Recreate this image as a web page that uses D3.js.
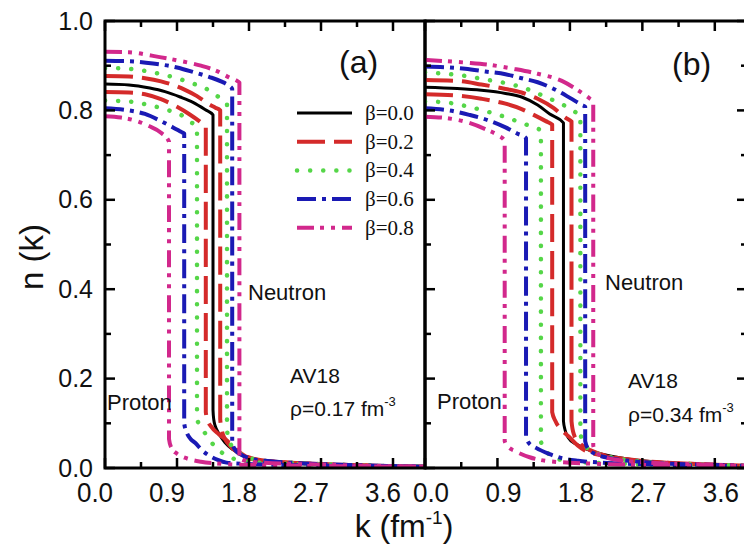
<!DOCTYPE html>
<html><head><meta charset="utf-8">
<script src="https://cdn.jsdelivr.net/npm/d3@7"></script>
<style>body{margin:0;background:#fff}svg{display:block}</style>
</head><body>
<script>
// ---------- tick values ----------
const xTicks = [0, 0.9, 1.8, 2.7, 3.6];
const xMinor = [0.45, 1.35, 2.25, 3.15];
const yTicks = [0, 0.2, 0.4, 0.6, 0.8, 1.0];
const yMinor = [0.1, 0.3, 0.5, 0.7, 0.9];
const betas = ["0.0", "0.2", "0.4", "0.6", "0.8"];

// ---------- panel (a): rho = 0.17 fm^-3, [k, n(k)] ----------
const a_b00 = [[0,0.859],[0.3,0.857],[0.56,0.850],[0.75,0.842],[0.94,0.830],[1.1,0.818],[1.25,0.802],[1.35,0.790],[1.35,0.13],[1.36,0.108],[1.38,0.093],[1.42,0.078],[1.5,0.057],[1.6,0.041],[1.7,0.030],[1.81,0.022],[2.0,0.016],[2.4,0.011],[2.8,0.008],[3.2,0.006],[3.6,0.004],[4.0,0.003]];
const a_b02p = [[0,0.841],[0.3,0.840],[0.5,0.836],[0.7,0.825],[0.9,0.808],[1.05,0.792],[1.2,0.773],[1.26,0.764],[1.26,0.125],[1.28,0.108],[1.33,0.092],[1.42,0.076],[1.52,0.062],[1.6,0.048],[1.69,0.034],[1.81,0.021],[2.0,0.016],[2.4,0.011],[2.8,0.008],[3.2,0.006],[3.6,0.004],[4.0,0.003]];
const a_b02n = [[0,0.877],[0.3,0.876],[0.5,0.872],[0.7,0.865],[0.85,0.857],[1.0,0.846],[1.15,0.832],[1.28,0.816],[1.38,0.806],[1.44,0.800],[1.44,0.11],[1.46,0.085],[1.5,0.065],[1.56,0.050],[1.65,0.036],[1.75,0.027],[1.85,0.021],[2.0,0.016],[2.4,0.011],[2.8,0.008],[3.2,0.006],[3.6,0.004],[4.0,0.003]];
const a_b04p = [[0,0.822],[0.3,0.820],[0.55,0.812],[0.8,0.800],[0.95,0.790],[1.05,0.776],[1.15,0.762],[1.15,0.11],[1.19,0.095],[1.25,0.078],[1.32,0.060],[1.4,0.043],[1.5,0.030],[1.62,0.020],[1.8,0.014],[2.2,0.010],[2.6,0.008],[3.0,0.006],[3.6,0.004],[4.0,0.003]];
const a_b04n = [[0,0.895],[0.3,0.893],[0.6,0.885],[0.9,0.872],[1.1,0.860],[1.25,0.850],[1.38,0.835],[1.48,0.822],[1.525,0.815],[1.525,0.085],[1.55,0.062],[1.6,0.046],[1.7,0.031],[1.8,0.023],[2.0,0.016],[2.4,0.011],[2.8,0.008],[3.2,0.006],[3.6,0.004],[4.0,0.003]];
const a_b06p = [[0,0.805],[0.3,0.800],[0.5,0.792],[0.7,0.776],[0.85,0.762],[0.95,0.752],[0.99,0.748],[0.99,0.10],[1.02,0.080],[1.07,0.065],[1.13,0.056],[1.21,0.040],[1.3,0.028],[1.41,0.018],[1.52,0.012],[1.8,0.009],[2.2,0.007],[2.8,0.005],[3.4,0.004],[4.0,0.003]];
const a_b06n = [[0,0.911],[0.3,0.910],[0.6,0.905],[0.9,0.896],[1.1,0.886],[1.3,0.875],[1.45,0.865],[1.55,0.855],[1.59,0.848],[1.59,0.056],[1.63,0.040],[1.7,0.030],[1.8,0.022],[2.0,0.016],[2.4,0.011],[2.8,0.008],[3.2,0.006],[3.6,0.004],[4.0,0.003]];
const a_b08p = [[0,0.787],[0.2,0.784],[0.4,0.776],[0.55,0.765],[0.7,0.750],[0.8,0.730],[0.8,0.065],[0.83,0.045],[0.9,0.032],[1.0,0.023],[1.2,0.014],[1.4,0.010],[1.8,0.007],[2.4,0.005],[3.0,0.004],[4.0,0.003]];
const a_b08n = [[0,0.931],[0.3,0.930],[0.6,0.922],[0.9,0.912],[1.2,0.900],[1.4,0.888],[1.55,0.874],[1.65,0.866],[1.68,0.862],[1.68,0.024],[1.72,0.018],[1.8,0.015],[2.0,0.012],[2.4,0.009],[2.8,0.007],[3.2,0.005],[3.6,0.004],[4.0,0.003]];

// ---------- panel (b): rho = 0.34 fm^-3 ----------
const b_b00 = [[0,0.852],[0.4,0.849],[0.7,0.845],[1.0,0.838],[1.2,0.830],[1.4,0.812],[1.55,0.792],[1.72,0.772],[1.72,0.105],[1.74,0.085],[1.78,0.068],[1.88,0.053],[2.0,0.043],[2.1,0.036],[2.3,0.027],[2.6,0.018],[3.0,0.012],[3.4,0.008],[3.8,0.005],[4.0,0.004]];
const b_b02p = [[0,0.836],[0.4,0.833],[0.7,0.826],[1.0,0.815],[1.2,0.803],[1.35,0.790],[1.5,0.776],[1.58,0.768],[1.58,0.125],[1.62,0.105],[1.7,0.085],[1.8,0.068],[1.9,0.050],[2.0,0.038],[2.2,0.028],[2.5,0.018],[3.0,0.012],[3.5,0.008],[4.0,0.005]];
const b_b02n = [[0,0.868],[0.4,0.866],[0.7,0.858],[1.0,0.848],[1.2,0.840],[1.4,0.826],[1.6,0.805],[1.75,0.783],[1.82,0.775],[1.82,0.105],[1.85,0.075],[1.92,0.056],[2.05,0.040],[2.2,0.030],[2.5,0.020],[3.0,0.012],[3.5,0.008],[4.0,0.005]];
const b_b04p = [[0,0.820],[0.25,0.818],[0.5,0.810],[0.8,0.796],[1.0,0.785],[1.2,0.772],[1.35,0.762],[1.44,0.755],[1.44,0.060],[1.47,0.045],[1.52,0.034],[1.6,0.024],[1.8,0.015],[2.2,0.011],[2.8,0.008],[3.4,0.006],[4.0,0.004]];
const b_b04n = [[0,0.885],[0.5,0.877],[0.75,0.869],[1.0,0.861],[1.25,0.849],[1.5,0.830],[1.72,0.812],[1.88,0.795],[1.93,0.790],[1.93,0.080],[1.96,0.058],[2.02,0.044],[2.15,0.032],[2.4,0.021],[2.8,0.013],[3.4,0.008],[4.0,0.005]];
const b_b06p = [[0,0.805],[0.3,0.800],[0.55,0.790],[0.8,0.777],[1.0,0.762],[1.15,0.748],[1.255,0.738],[1.255,0.072],[1.29,0.056],[1.38,0.045],[1.55,0.031],[1.7,0.022],[1.9,0.016],[2.2,0.012],[2.8,0.008],[3.4,0.006],[4.0,0.004]];
const b_b06n = [[0,0.898],[0.5,0.893],[0.75,0.887],[1.0,0.881],[1.2,0.872],[1.4,0.863],[1.6,0.848],[1.8,0.828],[1.95,0.812],[1.99,0.808],[1.99,0.060],[2.03,0.042],[2.12,0.031],[2.3,0.022],[2.6,0.015],[3.0,0.010],[3.5,0.007],[4.0,0.005]];
const b_b08p = [[0,0.786],[0.3,0.782],[0.55,0.772],[0.75,0.758],[0.9,0.745],[0.99,0.732],[0.99,0.060],[1.03,0.048],[1.12,0.038],[1.3,0.024],[1.5,0.016],[1.8,0.012],[2.4,0.008],[3.0,0.006],[4.0,0.004]];
const b_b08n = [[0,0.913],[0.5,0.907],[0.8,0.902],[1.1,0.893],[1.4,0.882],[1.7,0.866],[1.9,0.845],[2.05,0.826],[2.09,0.820],[2.09,0.050],[2.13,0.035],[2.22,0.025],[2.4,0.018],[2.8,0.012],[3.4,0.008],[4.0,0.005]];

// ---------- styles ----------
const colors = ["#000000", "#d42a2a", "#55d648", "#1a1ab4", "#d2288c"];
const dashes = ["none", "28,9", "0.1,13", "19,6,4,6", "17,6,4,7,4,7"];
const widths = [3, 4, 4.5, 4, 4];
const caps = ["butt", "butt", "round", "butt", "butt"];

const W = 744, H = 544;
const svg = d3.select("body").append("svg").attr("width", W).attr("height", H);
svg.append("rect").attr("width", W).attr("height", H).attr("fill", "#fff");
const FONT = "'Liberation Sans', Arial, sans-serif";

const y = d3.scaleLinear().domain([0, 1]).range([468, 21]);

const panels = [
  { id: "a", x: d3.scaleLinear().domain([0, 4]).range([105, 425]), lblOff: -10, leftLabels: true, rightTicks: false,
    series: [[0,a_b00],[1,a_b02p],[1,a_b02n],[2,a_b04p],[2,a_b04n],[3,a_b06p],[3,a_b06n],[4,a_b08p],[4,a_b08n]] },
  { id: "b", x: d3.scaleLinear().domain([0, 4]).range([425, 747]), lblOff: 6, leftLabels: false, rightTicks: true,
    series: [[0,b_b00],[1,b_b02p],[1,b_b02n],[2,b_b04p],[2,b_b04n],[3,b_b06p],[3,b_b06n],[4,b_b08p],[4,b_b08n]] }
];

panels.forEach(p => {
  const x = p.x;
  const [x0, x1] = x.range();
  const clipId = "clip" + p.id;
  svg.append("clipPath").attr("id", clipId).append("rect")
    .attr("x", x0).attr("y", y(1)).attr("width", x1 - x0).attr("height", y(0) - y(1));

  const g = svg.append("g");
  const line = d3.line().x(d => x(d[0])).y(d => y(d[1])).curve(d3.curveMonotoneX);
  const cg = g.append("g").attr("clip-path", `url(#${clipId})`);
  p.series.forEach(([bi, data]) => {
    cg.append("path").attr("d", line(data)).attr("fill", "none")
      .attr("stroke", colors[bi]).attr("stroke-width", widths[bi])
      .attr("stroke-dasharray", dashes[bi]).attr("stroke-linecap", caps[bi])
      .attr("stroke-linejoin", "round");
  });

  // frame
  g.append("rect").attr("x", x0).attr("y", y(1)).attr("width", x1 - x0).attr("height", y(0) - y(1))
    .attr("fill", "none").attr("stroke", "#000").attr("stroke-width", 3);

  const tk = g.append("g").attr("stroke", "#000").attr("stroke-width", 2.5);
  const addX = (vals, len) => vals.forEach(v => {
    tk.append("line").attr("x1", x(v)).attr("x2", x(v)).attr("y1", y(0)).attr("y2", y(0) - len);
    tk.append("line").attr("x1", x(v)).attr("x2", x(v)).attr("y1", y(1)).attr("y2", y(1) + len);
  });
  addX(xTicks, 10); addX(xMinor, 6);
  const addY = (vals, len) => vals.forEach(v => {
    tk.append("line").attr("x1", x0).attr("x2", x0 + len).attr("y1", y(v)).attr("y2", y(v));
    if (p.rightTicks) tk.append("line").attr("x1", x1).attr("x2", x1 - len).attr("y1", y(v)).attr("y2", y(v));
  });
  addY(yTicks, 10); addY(yMinor, 6);

  // x tick labels
  xTicks.forEach(v => {
    g.append("text").attr("transform", `translate(${x(v) + p.lblOff},502) scale(1,1.08)`)
      .attr("text-anchor", "middle").attr("font-family", FONT).attr("font-size", 26)
      .attr("fill", "#111").text(v.toFixed(1));
  });
  if (p.leftLabels) {
    yTicks.forEach(v => {
      g.append("text").attr("x", 93).attr("y", y(v)).attr("dy", "0.34em")
        .attr("text-anchor", "end").attr("font-family", FONT).attr("font-size", 25)
        .attr("fill", "#111").text(v.toFixed(1));
    });
  }
});

const txt = (xx, yy, s, size, fam) => svg.append("text").attr("x", xx).attr("y", yy)
  .attr("font-family", fam || FONT).attr("font-size", size).attr("fill", "#111").text(s);

// panel labels
txt(339, 73, "(a)", 32);
txt(672, 75, "(b)", 32);

// legend
const lg = svg.append("g");
betas.forEach((b, i) => {
  const ly = 113 + i * 28.7;
  lg.append("line").attr("x1", 297).attr("x2", 352).attr("y1", ly).attr("y2", ly)
    .attr("stroke", colors[i]).attr("stroke-width", widths[i])
    .attr("stroke-dasharray", dashes[i]).attr("stroke-linecap", caps[i]);
  lg.append("text").attr("x", 365).attr("y", ly + 7)
    .attr("font-family", "'Liberation Serif', 'Times New Roman', serif").attr("font-size", 21)
    .attr("fill", "#111").text("β=" + b);
});

// annotations
txt(248, 300, "Neutron", 22);
txt(605, 290, "Neutron", 22);
txt(107, 410, "Proton", 22);
txt(437, 409, "Proton", 22);
txt(290, 383, "AV18", 21);
txt(628, 388, "AV18", 21);
const rho = (xx, yy, val) => {
  const t = txt(xx, yy, "", 21);
  t.append("tspan").text("ρ=" + val + " fm");
  t.append("tspan").attr("dy", -10).attr("font-size", 13).text("-3");
};
rho(290, 416, "0.17");
rho(628, 422, "0.34");

// axis titles
const xt = svg.append("text").attr("x", 404).attr("y", 537).attr("text-anchor", "middle")
  .attr("font-family", FONT).attr("font-size", 32).attr("fill", "#111");
xt.append("tspan").text("k (fm");
xt.append("tspan").attr("dy", -13).attr("font-size", 19).text("-1");
xt.append("tspan").attr("dy", 13).text(")");

svg.append("text").attr("transform", "translate(43,257) rotate(-90)")
  .attr("text-anchor", "middle").attr("font-family", FONT).attr("font-size", 33)
  .attr("fill", "#111").text("n (k)");
</script>
</body></html>
